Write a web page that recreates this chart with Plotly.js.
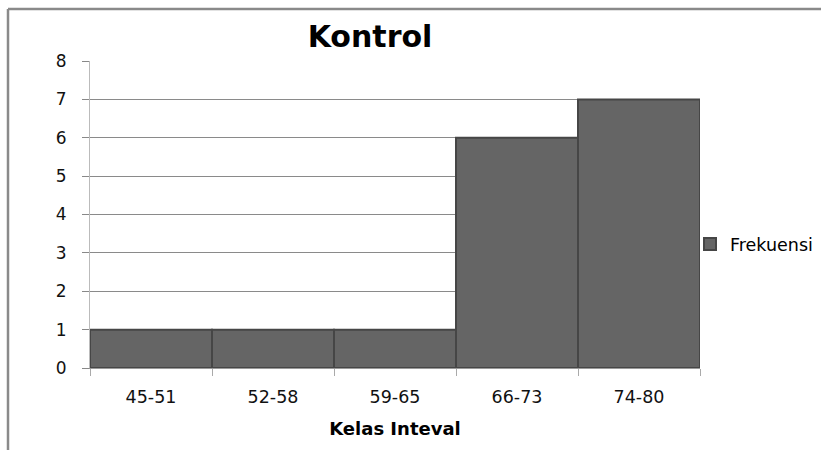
<!DOCTYPE html>
<html>
<head>
<meta charset="utf-8">
<script src="https://cdn.plot.ly/plotly-3.0.1.min.js"></script>
<style>html,body{margin:0;padding:0;background:#fff;}</style>
</head>
<body>
<div id="chart" style="width:821px;height:450px;"></div>
<script>
const categories = ["45-51", "52-58", "59-65", "66-73", "74-80"];
const frekuensi = [1, 1, 1, 6, 7];
const seriesName = "Frekuensi";
const chartTitle = "Kontrol";
const xTitle = "Kelas Inteval";

const fontFam = "'DejaVu Sans', Verdana, sans-serif";

const data = [{
  type: "bar",
  x: categories,
  y: frekuensi,
  name: seriesName,
  showlegend: true,
  marker: {
    color: "#656565",
    line: {color: "#464646", width: 2}
  },
  hoverinfo: "x+y"
}];

const layout = {
  width: 821,
  height: 450,
  margin: {l: 90, r: 121, t: 61, b: 82, autoexpand: false},
  paper_bgcolor: "#ffffff",
  plot_bgcolor: "#ffffff",
  bargap: 0,
  font: {family: fontFam, size: 17, color: "#000"},
  title: {
    text: "<b>" + chartTitle + "</b>",
    font: {family: fontFam, size: 30, color: "#000"},
    x: 370/821, xanchor: "center",
    y: 1 - 36/450, yanchor: "middle"
  },
  xaxis: {
    type: "category",
    automargin: false,
    showline: true,
    linecolor: "#999",
    linewidth: 1,
    ticks: "outside",
    tickson: "boundaries",
    ticklen: 7,
    tickcolor: "#aaa",
    showgrid: false,
    tickfont: {family: fontFam, size: 17.5, color: "#111"},
    ticklabelstandoff: 13,
    title: {text: "<b>" + xTitle + "</b>", font: {family: fontFam, size: 18, color: "#000"}, standoff: 16}
  },
  yaxis: {
    automargin: false,
    range: [0, 8],
    dtick: 1,
    showline: true,
    linecolor: "#bbb",
    linewidth: 1,
    ticks: "outside",
    ticklen: 7,
    tickcolor: "#888",
    showgrid: true,
    gridcolor: "#8a8a8a",
    gridwidth: 1,
    zeroline: false,
    tickfont: {family: fontFam, size: 17, color: "#111"},
    ticklabelstandoff: 12
  },
  legend: {
    xref: "container", yref: "container",
    x: 690/821, xanchor: "left",
    y: 1 - 244/450, yanchor: "middle",
    font: {family: fontFam, size: 17.5, color: "#000"},
    itemwidth: 30,
    bgcolor: "rgba(0,0,0,0)"
  },
  shapes: [
    {type: "line", xref: "paper", yref: "paper", x0: -82/610, x1: 740/610, y0: (368-9)/307, y1: (368-9)/307, line: {color: "#8a8a8a", width: 2.5}},
    {type: "line", xref: "paper", yref: "paper", x0: -82/610, x1: -82/610, y0: (368-9)/307, y1: (368-452)/307, line: {color: "#8a8a8a", width: 2.5}}
  ]
};

Plotly.newPlot("chart", data, layout, {displayModeBar: false, staticPlot: true});
</script>
</body>
</html>
